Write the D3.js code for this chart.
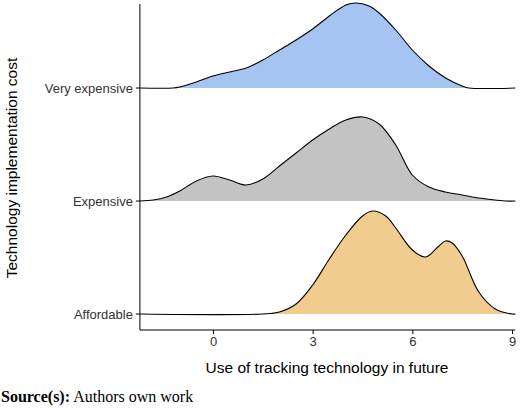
<!DOCTYPE html>
<html><head><meta charset="utf-8">
<script src="https://cdn.jsdelivr.net/npm/d3@7"></script>
<style>body{margin:0;background:#fff}</style>
</head><body><div id="chart"></div>
<script>
const categories = ["Affordable", "Expensive", "Very expensive"];
const colors = ["#f0cd8e", "#c3c3c3", "#a6c4f2"];
const xTicks = [0, 3, 6, 9];
// density profiles: [x, height]
const affordable = [[-2.2,0],[1.5,0],[2,2],[2.5,10],[3,29],[3.5,55],[4,79],[4.5,98],[4.8,103],[5.2,98],[5.5,86],[6,64],[6.4,57],[6.8,68],[7,73],[7.2,71],[7.5,58],[8,22],[8.5,5],[9,0],[9.1,0]];
const expensive = [[-2.2,0],[-1.8,1],[-1.4,4],[-1,10],[-0.5,20],[0,25],[0.5,21],[1,16],[1.5,22],[2,35],[2.5,48],[3,61],[3.5,72],[4,81],[4.5,84],[5,77],[5.5,56],[6,26],[6.5,14],[7,9],[7.5,6],[8,3],[8.5,1],[8.8,0],[9.1,0]];
const veryExpensive = [[-2.2,0],[-1.2,0],[-1,1],[-0.5,6],[0,12],[0.5,16],[1,20],[1.5,28],[2,38],[2.5,48],[3,59],[3.5,72],[4,83],[4.3,85],[4.7,82],[5,75],[5.5,58],[6,38],[6.5,22],[7,10],[7.5,2],[7.7,0],[9.1,0]];
const series = [affordable, expensive, veryExpensive];

const W = 520, H = 409;
const svg = d3.select("#chart").append("svg").attr("width", W).attr("height", H)
  .style("font-family", "Liberation Sans, Arial, sans-serif");

const x = d3.scaleLinear().domain([0, 9]).range([213, 512]);
const base = {"Affordable": 314, "Expensive": 201, "Very expensive": 88};
const h = d3.scaleLinear().domain([0, 1]).range([0, -1]);

[2, 1, 0].forEach(i => {
  const c = categories[i], b = base[c];
  const curve = d3.curveCatmullRom.alpha(0.5);
  const area = d3.area().curve(curve).x(d => x(d[0])).y0(b).y1(d => Math.min(b, b + h(d[1])));
  const line = d3.line().curve(curve).x(d => x(d[0])).y(d => b + h(d[1]));
  svg.append("path").datum(series[i]).attr("d", area).attr("fill", colors[i]);
  svg.append("path").datum(series[i]).attr("d", line).attr("fill", "none")
    .attr("stroke", "#000").attr("stroke-width", 1.1);
});

const left = x(-2.2);
svg.append("line").attr("x1", left).attr("x2", left).attr("y1", 4).attr("y2", 330).attr("stroke", "#000");
const xAxis = svg.append("g").attr("transform", "translate(0,330)")
  .call(d3.axisBottom(x).tickValues(xTicks).tickSize(4).tickSizeOuter(0));
xAxis.select(".domain").attr("d", `M${left},0H${x(9.1)}`);
xAxis.selectAll("text").attr("font-size", 13).attr("fill", "#333").attr("font-family", "Liberation Sans, Arial, sans-serif");

categories.forEach(c => {
  svg.append("line").attr("x1", left - 4).attr("x2", left).attr("y1", base[c]).attr("y2", base[c]).attr("stroke", "#000");
  svg.append("text").attr("x", left - 7).attr("y", base[c]).attr("dy", "0.35em")
    .attr("text-anchor", "end").attr("font-size", 13).attr("fill", "#333").text(c);
});

svg.append("text").attr("x", 327).attr("y", 373).attr("text-anchor", "middle")
  .attr("font-size", 15.5).text("Use of tracking technology in future");
svg.append("text").attr("transform", "translate(17,168) rotate(-90)").attr("text-anchor", "middle")
  .attr("font-size", 15.5).text("Technology implementation cost");

const src = svg.append("text").attr("x", 1).attr("y", 402)
  .attr("font-family", "Liberation Serif, Times New Roman, serif").attr("font-size", 16);
src.append("tspan").attr("font-weight", "bold").text("Source(s):");
src.append("tspan").text(" Authors own work");
</script></body></html>
